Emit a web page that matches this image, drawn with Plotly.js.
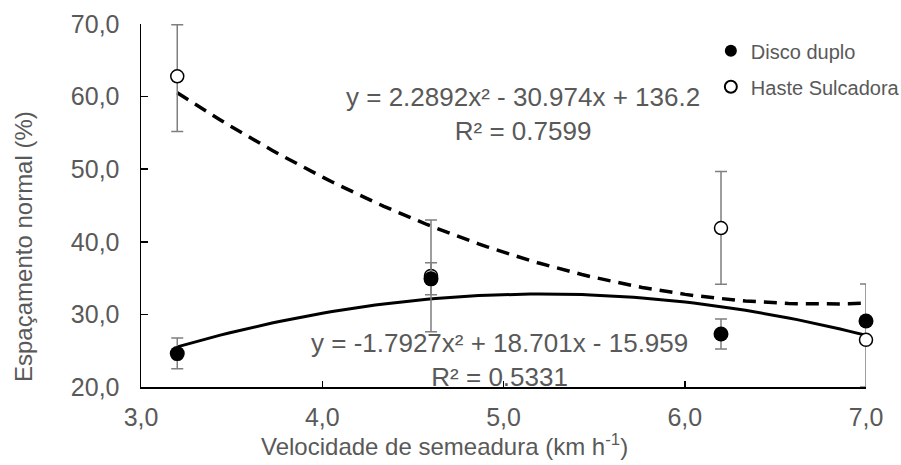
<!DOCTYPE html>
<html>
<head>
<meta charset="utf-8">
<script src="https://cdn.plot.ly/plotly-3.0.1.min.js"></script>
<style>html,body{margin:0;padding:0;background:#fff;}#chart{width:901px;height:465px;}</style>
</head>
<body>
<div id="chart"></div>
<script>
// Data
const speeds = [3.2, 4.6, 6.2, 7.0];
const discoMean = [24.6, 34.9, 27.3, 29.1];
const discoErrPlus = [2.15, 2.2, 2.05, 0.6];
const discoErrMinus = [2.1, 2.2, 2.05, 0.6];
const hasteMean = [62.8, 35.3, 41.9, 26.5];
const hasteErrPlus = [7.1, 7.7, 7.8, 7.7];
const hasteErrMinus = [7.6, 7.7, 7.75, 6.5];
// Trendline coefficients printed on the chart (a, b, c for a*x^2 + b*x + c)
const discoCoef = [-1.7927, 18.701, -15.959];
const hasteCoef = [2.2892, -30.974, 136.2];
const discoEqText = 'y = -1.7927x² + 18.701x - 15.959<br>R² = 0.5331';
const hasteEqText = 'y = 2.2892x² - 30.974x + 136.2<br>R² = 0.7599';
const seriesNames = ['Disco duplo', 'Haste Sulcadora'];
const xTitle = 'Velocidade de semeadura (km h<sup>-1</sup>)';
const yTitle = 'Espaçamento normal (%)';

function trend(coef) {
  const xs = [], ys = [];
  const x0 = speeds[0], x1 = speeds[speeds.length - 1];
  const n = 80;
  for (let i = 0; i <= n; i++) {
    const x = x0 + (x1 - x0) * i / n;
    xs.push(x);
    ys.push(coef[0] * x * x + coef[1] * x + coef[2]);
  }
  return {xs, ys};
}
const tD = trend(discoCoef), tH = trend(hasteCoef);

const gray = '#595959';
const fontFam = '"Liberation Sans", Arial, sans-serif';

const traces = [
  {x: tH.xs, y: tH.ys, mode: 'lines', showlegend: false, hoverinfo: 'skip',
   line: {color: '#000', width: 3.5, dash: '13px,8px'}},
  {x: tD.xs, y: tD.ys, mode: 'lines', showlegend: false, hoverinfo: 'skip',
   line: {color: '#000', width: 3}},
  {x: speeds, y: hasteMean, name: seriesNames[1], mode: 'markers', legendrank: 2,
   legendgroup: 'h', cliponaxis: false,
   marker: {symbol: 'circle', size: 13, color: '#fff', line: {color: '#000', width: 1.5}},
   error_y: {type: 'data', symmetric: false, array: hasteErrPlus, arrayminus: hasteErrMinus,
             color: '#7f7f7f', thickness: 1.5, width: 6}},
  {x: speeds, y: discoMean, name: seriesNames[0], mode: 'markers', legendrank: 1,
   legendgroup: 'd', cliponaxis: false,
   marker: {symbol: 'circle', size: 15, color: '#000', line: {color: '#000', width: 0}},
   error_y: {type: 'data', symmetric: false, array: discoErrPlus, arrayminus: discoErrMinus,
             color: '#7f7f7f', thickness: 1.5, width: 6}}
];

const layout = {
  width: 901, height: 465,
  margin: {l: 141, r: 35, t: 24, b: 78, autoexpand: false},
  paper_bgcolor: '#fff', plot_bgcolor: '#fff',
  separators: ',.',
  font: {family: fontFam, color: gray, size: 24},
  showlegend: true,
  legend: {x: 0.786, y: 0.98, xanchor: 'left', yanchor: 'top',
           font: {family: fontFam, size: 20, color: gray},
           bgcolor: 'rgba(0,0,0,0)', itemsizing: 'constant', tracegroupgap: 7,
           traceorder: 'grouped'},
  xaxis: {range: [3, 7], dtick: 1, tick0: 3, tickformat: '.1f', automargin: false,
          showline: true, linecolor: '#000', linewidth: 1.5,
          ticks: 'inside', ticklen: 6, tickcolor: '#000', tickwidth: 1.5,
          showgrid: false, zeroline: false, ticklabelstandoff: 7,
          tickfont: {family: fontFam, size: 25, color: gray}},
  yaxis: {range: [20, 70], dtick: 10, tick0: 20, tickformat: '.1f', automargin: false,
          showline: true, linecolor: '#000', linewidth: 1.5,
          ticks: 'inside', ticklen: 7, tickcolor: '#000', tickwidth: 1.5,
          showgrid: false, zeroline: false, ticklabelstandoff: 15,
          tickfont: {family: fontFam, size: 25, color: gray}},
  annotations: [
    {x: 0.419, y: -0.160, xref: 'paper', yref: 'paper', text: xTitle, showarrow: false,
     xanchor: 'center', yanchor: 'middle', font: {family: fontFam, size: 24, color: gray}},
    {x: -0.163, y: 0.388, xref: 'paper', yref: 'paper', text: yTitle, showarrow: false,
     textangle: -90, xanchor: 'center', yanchor: 'middle', font: {family: fontFam, size: 24, color: gray}},
    {x: 5.108, y: 57.56, xref: 'x', yref: 'y', text: hasteEqText, showarrow: false,
     font: {family: fontFam, size: 26, color: gray}, align: 'center'},
    {x: 4.976, y: 23.68, xref: 'x', yref: 'y', text: discoEqText, showarrow: false,
     font: {family: fontFam, size: 26, color: gray}, align: 'center'}
  ]
};

Plotly.newPlot('chart', traces, layout, {displayModeBar: false, staticPlot: true});
</script>
</body>
</html>
